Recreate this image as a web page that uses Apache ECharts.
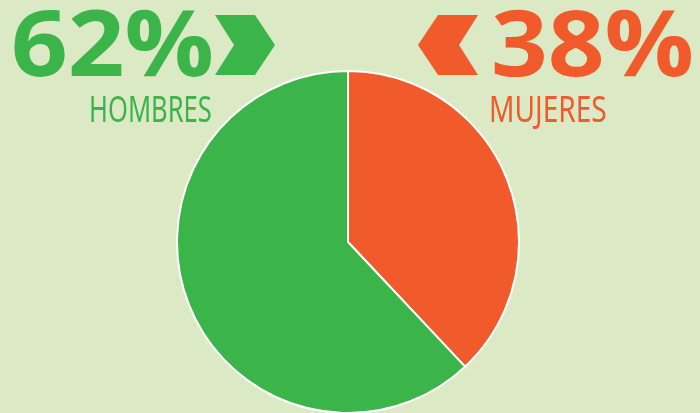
<!DOCTYPE html>
<html>
<head>
<meta charset="utf-8">
<script src="https://cdn.jsdelivr.net/npm/echarts@6/dist/echarts.min.js"></script>
<style>
  html, body { margin: 0; padding: 0; background: #dce9c5; }
  #main { width: 700px; height: 413px; }
</style>
</head>
<body>
<div id="main"></div>
<script>
var categories = ['MUJERES', 'HOMBRES'];
var values = [38, 62];
var colors = ['#f15a2b', '#3bb54a'];

var chart = echarts.init(document.getElementById('main'));

function pct(i) { return values[i] + '%'; }

var bigFont = 'bold 92px "Open Sans"';
var smallFont = '36px "Noto Sans"';

var option = {
    backgroundColor: '#dce9c5',
    animation: false,
    series: [{
        type: 'pie',
        center: [348, 242],
        radius: 171,
        startAngle: 90,
        clockwise: true,
        label: { show: false },
        labelLine: { show: false },
        itemStyle: { borderColor: '#fff', borderWidth: 2 },
        emphasis: { disabled: true },
        data: categories.map(function (c, i) {
            return { name: c, value: values[i], itemStyle: { color: colors[i] } };
        })
    }],
    graphic: [
        // hombres
        {
            type: 'text', x: 11, y: 50, scaleX: 1.08,
            style: { text: pct(1), font: bigFont, fill: colors[1], textAlign: 'left', textVerticalAlign: 'middle' }
        },
        {
            type: 'polygon',
            shape: { points: [[215, 15], [255, 15], [275, 45], [255, 75], [215, 75], [234, 45]] },
            style: { fill: colors[1] }
        },
        {
            type: 'text', x: 89, y: 112, scaleX: 0.71,
            style: { text: categories[1], font: smallFont, fill: colors[1], textAlign: 'left', textVerticalAlign: 'middle' }
        },
        // mujeres
        {
            type: 'polygon',
            shape: { points: [[438, 15], [478, 15], [459, 45], [478, 75], [438, 75], [418, 45]] },
            style: { fill: colors[0] }
        },
        {
            type: 'text', x: 491, y: 50, scaleX: 1.08,
            style: { text: pct(0), font: bigFont, fill: colors[0], textAlign: 'left', textVerticalAlign: 'middle' }
        },
        {
            type: 'text', x: 489, y: 112, scaleX: 0.78,
            style: { text: categories[0], font: smallFont, fill: colors[0], textAlign: 'left', textVerticalAlign: 'middle' }
        }
    ]
};

chart.setOption(option);
</script>
</body>
</html>
